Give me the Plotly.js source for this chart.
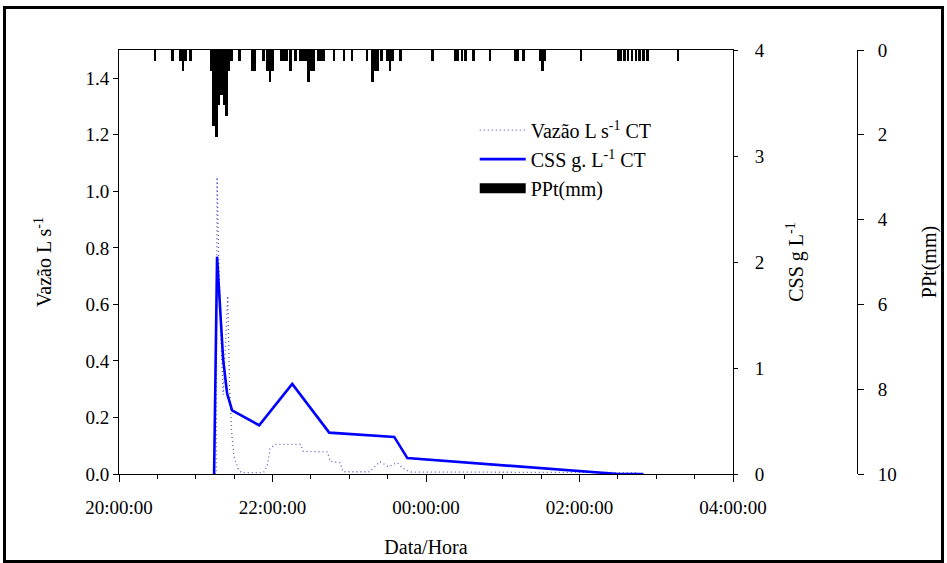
<!DOCTYPE html>
<html><head><meta charset="utf-8">
<script src="https://cdn.plot.ly/plotly-3.0.1.min.js"></script>
<style>
html,body{margin:0;padding:0;background:#fff}
#chart{width:947px;height:563px;position:absolute;left:0;top:0}
#frame{position:absolute;left:3px;top:6px;width:935px;height:551px;border:3px solid #000;pointer-events:none}
</style>
</head><body><div id="chart"></div><div id="frame"></div>
<script>
// clock times (hh:mm:ss); times before noon belong to the next day
const vazaoTimes = ['21:15:00','21:16:00','21:16:40','21:18:00','21:20:00','21:21:25','21:25:00','21:26:30','21:28:00','21:30:00','21:33:00','21:35:30','21:53:00','21:56:00','21:58:00','22:02:00','22:22:00','22:24:00','22:43:00','22:45:00','22:53:00','22:55:00','23:16:00','23:24:00','23:30:30','23:37:30','23:42:00','23:48:00','02:46:00'];
const vazaoValues = [0,0,1.05,0.75,0.45,0.28,0.63,0.30,0.15,0.06,0.02,0.005,0.005,0.03,0.09,0.105,0.105,0.08,0.078,0.045,0.04,0.008,0.008,0.044,0.026,0.04,0.02,0.007,0.005];

const cssTimes = ['21:14:20','21:16:40','21:21:25','21:24:30','21:28:25','21:49:35','22:15:25','22:44:20','23:35:10','23:45:25','02:30:30','02:50:00'];
const cssValues = [0,2.05,1.08,0.76,0.60,0.46,0.85,0.39,0.35,0.15,0.0,0.0];

const rainTimes = ['20:28','20:42','20:48','20:50','20:52','20:56','21:12','21:14','21:16','21:18','21:20','21:22','21:24','21:26','21:28','21:34','21:44','21:46','21:53','21:56','21:58','22:00','22:07','22:09','22:11','22:14','22:18','22:22','22:24','22:26','22:28','22:30','22:32','22:36','22:38','22:40','22:48','22:56','23:02','23:14','23:18','23:20','23:22','23:25','23:30','23:32','23:34','23:40','00:05','00:23','00:25','00:28','00:31','00:37','00:50','01:10','01:12','01:16','01:29','01:31','01:33','02:01','02:30','02:32','02:35','02:38','02:41','02:44','02:47','02:50','02:53','03:17'];
const rainMm = [0.25,0.25,0.25,0.5,0.25,0.25,0.5,1.8,2.05,1.3,1.05,1.3,1.55,0.5,0.25,0.25,0.5,0.5,0.25,0.5,0.75,0.5,0.25,0.25,0.25,0.5,0.25,0.25,0.25,0.25,0.75,0.5,0.5,0.25,0.25,0.25,0.25,0.25,0.25,0.25,0.75,0.5,0.5,0.25,0.25,0.5,0.25,0.25,0.25,0.25,0.25,0.25,0.25,0.25,0.25,0.25,0.25,0.25,0.25,0.5,0.25,0.25,0.25,0.25,0.25,0.25,0.25,0.25,0.25,0.25,0.25,0.25];

const xTickStart = '2020-01-01 20:00:00';
const xTickEnd = '2020-01-02 04:00:00';

function toDate(t){
  const h = parseInt(t.slice(0,2),10);
  const full = t.length === 5 ? t + ':00' : t;
  return (h < 12 ? '2020-01-02 ' : '2020-01-01 ') + full;
}

const font = 'Liberation Serif';

const traces = [
  {x: vazaoTimes.map(toDate), y: vazaoValues, type:'scatter', mode:'lines', name:'Vazão L s<sup>-1</sup> CT',
   line:{color:'#5a5ac8', width:1.3, dash:'1px,3px'}, xaxis:'x', yaxis:'y'},
  {x: cssTimes.map(toDate), y: cssValues, type:'scatter', mode:'lines', name:'CSS g. L<sup>-1</sup> CT',
   line:{color:'#0000ff', width:2.6}, xaxis:'x', yaxis:'y2'},
  {x: rainTimes.map(toDate), y: rainMm, type:'bar', name:'PPt(mm)', width: 120000,
   marker:{color:'#000', line:{width:0}}, xaxis:'x', yaxis:'y3', showlegend:false},
  {x:[null], y:[null], type:'scatter', mode:'lines', name:'PPt(mm)', line:{color:'#000', width:11}, xaxis:'x', yaxis:'y3'}
];

const axisFont = {family: font, size: 19, color:'#000'};
const titleFont = {family: font, size: 20, color:'#000'};

const layout = {
  width: 947, height: 563,
  margin: {l:119, r:90, t:50, b:89},
  paper_bgcolor:'#fff', plot_bgcolor:'#fff',
  font: {family: font, size: 19, color:'#000'},
  showlegend: true,
  legend: {x:0.482, y:0.857, xanchor:'left', yanchor:'top', bgcolor:'rgba(0,0,0,0)', font:{family:font, size:20, color:'#000'}, tracegroupgap:0, itemwidth:46},
  bargap: 0,
  xaxis: {type:'date', domain:[0, 0.832], range:[xTickStart, xTickEnd], tick0: xTickStart, dtick: 7200000,
    tickformat:'%H:%M:%S', ticks:'outside', ticklen:7, tickcolor:'#000', tickwidth:1,
    minor:{dtick:1800000, ticks:'outside', ticklen:4, tickcolor:'#000', tickwidth:1, showgrid:false},
    showline:true, linecolor:'#000', linewidth:1, mirror:true, showgrid:false, zeroline:false,
    tickfont: axisFont, ticklabelstandoff: 9,
    title:{text:'Data/Hora', font:titleFont, standoff: 23}},
  yaxis: {range:[0,1.5], dtick:0.2, tick0:0, tickformat:'.1f', ticks:'outside', ticklen:5, tickcolor:'#000',
    showline:true, linecolor:'#000', linewidth:1, showgrid:false, zeroline:false, tickfont: axisFont,
    title:{text:'Vazão L s<sup>-1</sup>', font:titleFont, standoff: 28}},
  yaxis2: {range:[0,4], dtick:1, overlaying:'y', side:'right', anchor:'x', ticks:'outside', ticklen:4, tickcolor:'#000',
    showline:true, linecolor:'#000', linewidth:1, showgrid:false, zeroline:false, tickfont: axisFont, ticklabelstandoff: 13,
    title:{text:'CSS g L<sup>-1</sup>', font:titleFont, standoff: 25}},
  yaxis3: {range:[10,0], dtick:2, overlaying:'y', side:'right', anchor:'free', position:1, ticks:'outside', ticklen:6, tickcolor:'#000',
    showline:true, linecolor:'#000', linewidth:1, showgrid:false, zeroline:false, tickfont: axisFont, ticklabelstandoff: 10,
    title:{text:'PPt(mm)', font:titleFont, standoff: 26}}
};

Plotly.newPlot('chart', traces, layout, {displayModeBar:false, staticPlot:true});
</script>
</body></html>
